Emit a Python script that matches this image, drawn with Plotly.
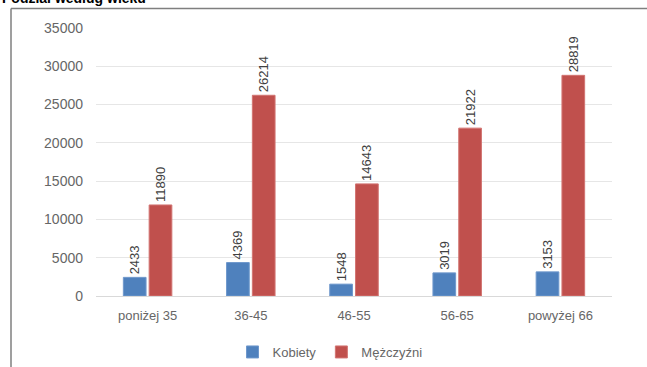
import plotly.graph_objects as go

categories = ["poniżej 35", "36-45", "46-55", "56-65", "powyżej 66"]
kobiety = [2433, 4369, 1548, 3019, 3153]
mezczyzni = [11890, 26214, 14643, 21922, 28819]
y_ticks = [0, 5000, 10000, 15000, 20000, 25000, 30000, 35000]
y_tick_text = [str(v) for v in y_ticks]

W, H = 647, 367
L, R, T, B = 96, 35, 28, 71
pw, ph = W - L - R, H - T - B

def px_x(x):
    return (x - L) / pw

def px_y(y):
    return (H - B - y) / ph

font_fam = "Liberation Sans"
label_col = "#666666"

fig = go.Figure()
fig.add_trace(go.Bar(
    name="Kobiety", x=categories, y=kobiety,
    marker=dict(color="#4F81BD", line=dict(color="#6f98cc", width=1)),
    text=[str(v) for v in kobiety], textposition="outside", textangle=-90,
    constraintext="none",
    textfont=dict(family=font_fam, size=13, color="#404040"),
    cliponaxis=False,
))
fig.add_trace(go.Bar(
    name="Mężczyźni", x=categories, y=mezczyzni,
    marker=dict(color="#C0504D", line=dict(color="#d27472", width=1)),
    text=[str(v) for v in mezczyzni], textposition="outside", textangle=-90,
    constraintext="none",
    textfont=dict(family=font_fam, size=13, color="#404040"),
    cliponaxis=False,
))

fig.update_layout(
    width=W, height=H,
    margin=dict(l=L, r=R, t=T, b=B, autoexpand=False),
    paper_bgcolor="white", plot_bgcolor="white",
    barmode="group", bargap=0.5, bargroupgap=0.12,
    font=dict(family=font_fam, size=13, color=label_col),
    showlegend=True,
    legend=dict(orientation="h", x=px_x(330), xanchor="center",
                y=px_y(352), yanchor="middle",
                font=dict(family=font_fam, size=13, color=label_col),
                itemwidth=30, traceorder="normal"),
    xaxis=dict(showgrid=False, showline=False, ticks="",
               tickfont=dict(family=font_fam, size=13, color=label_col),
               ticklabelstandoff=10),
    yaxis=dict(range=[0, 35000], tickvals=y_ticks, ticktext=y_tick_text,
               showgrid=True,
               gridcolor="#e6e6e6", gridwidth=1, zeroline=True,
               zerolinecolor="#d9d9d9", zerolinewidth=1,
               showline=False, ticks="", ticklabelstandoff=12,
               tickfont=dict(family=font_fam, size=14, color=label_col)),
    shapes=[
        dict(type="line", xref="paper", yref="paper",
             x0=px_x(11), x1=px_x(647), y0=px_y(8.5), y1=px_y(8.5),
             line=dict(color="#7f7f7f", width=1.5)),
        dict(type="line", xref="paper", yref="paper",
             x0=px_x(11), x1=px_x(11), y0=px_y(8.5), y1=px_y(367),
             line=dict(color="#7f7f7f", width=1.5)),
    ],
    annotations=[
        dict(text="<b>Podział według wieku</b>", xref="paper", yref="paper",
             x=px_x(0), xanchor="left", y=px_y(-2), yanchor="middle",
             showarrow=False,
             font=dict(family=font_fam, size=14, color="#000000")),
    ],
)

fig.write_html("out.html")
